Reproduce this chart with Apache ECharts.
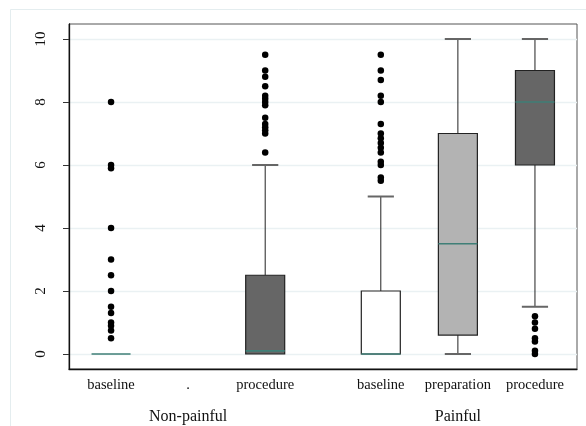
<!DOCTYPE html>
<html>
<head>
<meta charset="utf-8">
<script src="https://cdn.jsdelivr.net/npm/echarts@6/dist/echarts.min.js"></script>
<style>html,body{margin:0;padding:0;background:#fff;}#c{width:586px;height:426px;}</style>
</head>
<body>
<div id="c"></div>
<script>
// ---- data ----
const categories = ['baseline', '.', 'procedure', 'baseline', 'preparation', 'procedure'];
const catPositions = [1, 2, 3, 4.5, 5.5, 6.5];
const groups = ['Non-painful', 'Painful'];
const groupPositions = [2, 5.5];
const yTicks = [0, 2, 4, 6, 8, 10];

const lowWhisker  = [0, null, 0,   0, 0,   1.5];
const q1Values    = [0, null, 0,   0, 0.6, 6];
const medianVals  = [0, null, 0.1, 0, 3.5, 8];
const q3Values    = [0, null, 2.5, 2, 7,   9];
const highWhisker = [0, null, 6,   5, 10,  10];

const outliersNPBaseline = [8, 6, 5.9, 4, 3, 2.5, 2, 1.5, 1.3, 1.0, 0.9, 0.75, 0.5];
const outliersNPProcedure = [9.5, 9.0, 8.8, 8.5, 8.2, 8.1, 8.0, 7.9, 7.5, 7.3, 7.2, 7.1, 7.0, 6.4];
const outliersPBaseline = [9.5, 9.0, 8.7, 8.2, 8.0, 7.3, 7.0, 6.85, 6.7, 6.55, 6.4, 6.1, 6.0, 5.6, 5.5];
const outliersPPreparation = [];
const outliersPProcedure = [1.2, 1.0, 0.8, 0.5, 0.4, 0.1, 0.0];
const outlierLists = [outliersNPBaseline, [], outliersNPProcedure, outliersPBaseline, outliersPPreparation, outliersPProcedure];

// ---- styles ----
const fillByCategory = { 'baseline': '#ffffff', 'preparation': '#b3b3b3', 'procedure': '#666666', '.': '#ffffff' };
const FONT = "'Liberation Serif', 'DejaVu Serif', serif";

const boxData = [];
categories.forEach((c, i) => {
  if (q1Values[i] === null) return;
  boxData.push([catPositions[i], lowWhisker[i], q1Values[i], medianVals[i], q3Values[i], highWhisker[i], i]);
});
const outlierData = [];
outlierLists.forEach((arr, i) => arr.forEach(v => outlierData.push([catPositions[i], v])));

const chart = echarts.init(document.getElementById('c'), null, { renderer: 'canvas' });
chart.setOption({
  backgroundColor: '#ffffff',
  animation: false,
  graphic: [
    { type: 'polyline', silent: true, shape: { points: [[10.5, 440], [10.5, 9.5], [600, 9.5]] },
      style: { stroke: '#e4edef', lineWidth: 1, fill: null } }
  ],
  grid: { left: 69, right: 9, top: 24, bottom: 57, show: true, borderColor: '#555', borderWidth: 1, backgroundColor: '#fff' },
  xAxis: [
    { type: 'value', min: 0.4545, max: 7.0455, position: 'bottom',
      axisLine: { show: true, onZero: false, lineStyle: { color: '#111', width: 1.3 } },
      axisTick: { show: false }, splitLine: { show: false },
      axisLabel: { customValues: catPositions, margin: 9, fontFamily: FONT, fontSize: 14.5, color: '#111',
        formatter: v => { const i = catPositions.indexOf(v); return i >= 0 ? categories[i] : ''; } } },
    { type: 'value', min: 0.4545, max: 7.0455, position: 'bottom',
      axisLine: { show: false }, axisTick: { show: false }, splitLine: { show: false },
      axisLabel: { customValues: groupPositions, margin: 40, fontFamily: FONT, fontSize: 16, color: '#111',
        formatter: v => { const i = groupPositions.indexOf(v); return i >= 0 ? groups[i] : ''; } } }
  ],
  yAxis: {
    type: 'value', min: -0.476, max: 10.476,
    axisLine: { show: true, onZero: false, lineStyle: { color: '#111', width: 1.3 } },
    axisTick: { show: true, customValues: yTicks, length: 6, lineStyle: { color: '#333' } },
    axisLabel: { customValues: yTicks, rotate: 90, margin: 20, fontFamily: FONT, fontSize: 15, color: '#111' },
    splitLine: { show: true, lineStyle: { color: '#eaf1f3', width: 1.3 } }
  },
  series: [
    {
      type: 'custom', xAxisIndex: 0, yAxisIndex: 0, clip: false,
      data: boxData,
      encode: { x: 0, y: [1, 2, 3, 4, 5] },
      renderItem: (params, api) => {
        const x = api.value(0);
        const lo = api.value(1), q1 = api.value(2), md = api.value(3), q3 = api.value(4), hi = api.value(5);
        const idx = api.value(6);
        const unit = api.size([1, 0])[0];
        const half = unit * 0.253;
        const cap = unit * 0.17;
        const pLo = api.coord([x, lo]), pQ1 = api.coord([x, q1]), pMd = api.coord([x, md]), pQ3 = api.coord([x, q3]), pHi = api.coord([x, hi]);
        const cx = pMd[0];
        const children = [];
        if (hi > q3) {
          children.push({ type: 'line', shape: { x1: cx, y1: pQ3[1], x2: cx, y2: pHi[1] }, style: { stroke: '#222', lineWidth: 1 } });
          children.push({ type: 'line', shape: { x1: cx - cap, y1: pHi[1], x2: cx + cap, y2: pHi[1] }, style: { stroke: '#666', lineWidth: 2 } });
        }
        if (lo < q1) {
          children.push({ type: 'line', shape: { x1: cx, y1: pQ1[1], x2: cx, y2: pLo[1] }, style: { stroke: '#222', lineWidth: 1 } });
          children.push({ type: 'line', shape: { x1: cx - cap, y1: pLo[1], x2: cx + cap, y2: pLo[1] }, style: { stroke: '#666', lineWidth: 2 } });
        }
        if (q3 > q1) {
          children.push({ type: 'rect', shape: { x: cx - half, y: pQ3[1], width: 2 * half, height: pQ1[1] - pQ3[1] },
            style: { fill: fillByCategory[categories[idx]], stroke: '#222', lineWidth: 1.2 } });
        }
        children.push({ type: 'line', shape: { x1: cx - half, y1: pMd[1], x2: cx + half, y2: pMd[1] }, style: { stroke: '#3f7f77', lineWidth: 1.6 } });
        return { type: 'group', children };
      },
      z: 2
    },
    {
      type: 'scatter', xAxisIndex: 0, yAxisIndex: 0, data: outlierData, symbol: 'circle', symbolSize: 6.5,
      itemStyle: { color: '#000', opacity: 1 }, z: 3, clip: false
    }
  ]
});
</script>
</body>
</html>
